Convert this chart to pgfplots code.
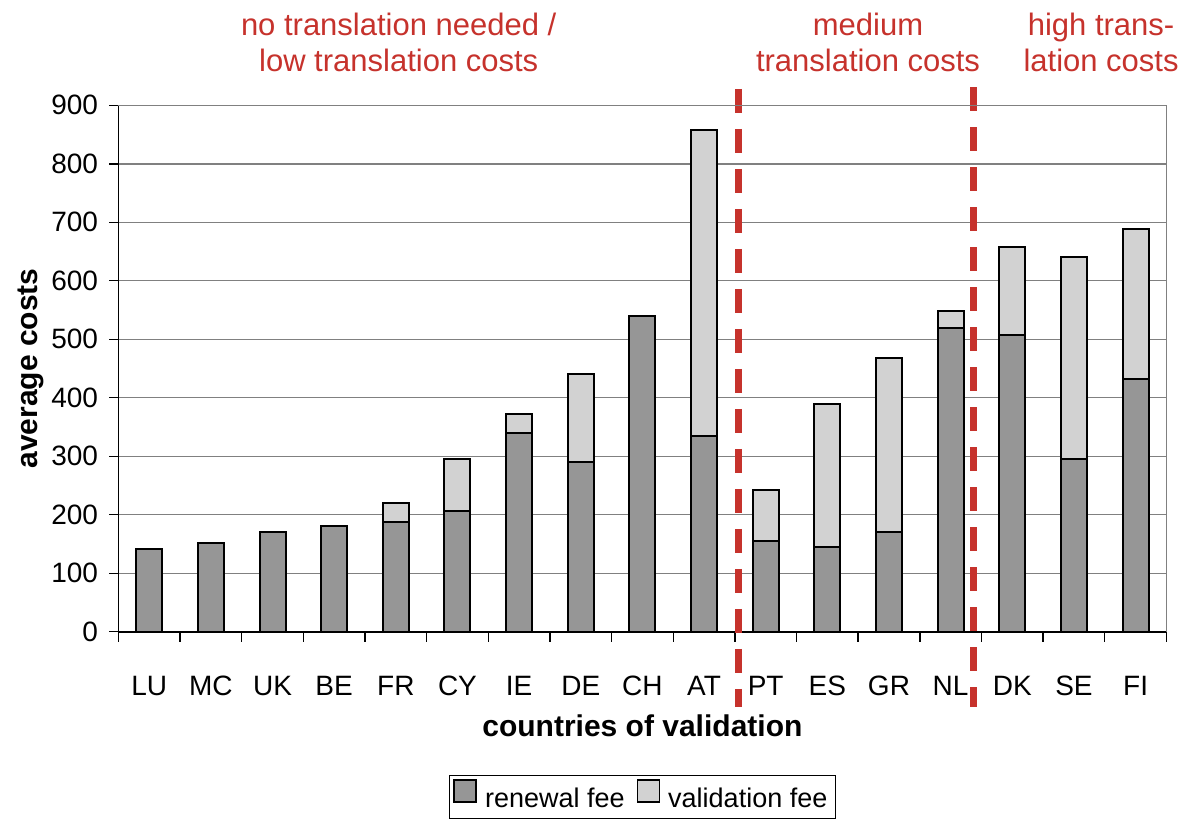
\documentclass[border=0pt]{standalone}
\usepackage{fontspec}
\setmainfont{Liberation Sans}
\usepackage{pgfplots}
\pgfplotsset{compat=1.18}
\definecolor{darkbar}{RGB}{150,150,150}
\definecolor{lightbar}{RGB}{210,210,210}
\definecolor{annred}{RGB}{198,50,44}
\definecolor{gridgray}{RGB}{128,128,128}
\pgfplotstableread{
x renewal validation
0 142 0
1 152 0
2 171 0
3 181 0
4 187 33
5 207 88
6 340 33
7 291 150
8 539 0
9 334 524
10 155 88
11 145 245
12 171 297
13 519 30
14 507 150
15 295 346
16 432 257
}\datatable
\begin{document}
\begin{tikzpicture}
\begin{axis}[
  name=ax,
  scale only axis, width=524pt, height=263.2pt,
  ybar stacked, bar width=13pt,
  xmin=-0.5, xmax=16.5, ymin=0, ymax=900,
  clip=false,
  axis x line*=bottom, axis y line*=left,
  axis line style={black, line width=0.8pt},
  ytick={0,100,...,900},
  xtick={0,...,16},
  xticklabels={LU,MC,UK,BE,FR,CY,IE,DE,CH,AT,PT,ES,GR,NL,DK,SE,FI},
  minor xtick={-0.5,0.5,...,16.5},
  major x tick style={draw=none},
  minor x tick style={black, line width=0.7pt},
  major y tick style={black, line width=0.7pt},
  tick align=outside,
  major tick length=4.5pt, minor tick length=5pt,
  ymajorgrids, grid style={gridgray, line width=0.7pt},
  /pgf/number format/assume math mode=true,
  ticklabel style={font=\fontsize{14}{16}\selectfont},
  xticklabel style={anchor=base, yshift=-27.2pt},
  yticklabel style={anchor=east, inner sep=0pt, xshift=-5.5pt},
  xlabel={countries of validation},
  xlabel style={font=\bfseries\fontsize{15}{18}\selectfont, at={(axis description cs:0.5,-0.2)}, anchor=base},
  ylabel={average costs},
  ylabel style={font=\bfseries\fontsize{15}{18}\selectfont, at={(axis description cs:-0.0834,0.5)}, anchor=center},
  legend style={at={(axis description cs:0.5,-0.272)}, anchor=north, legend columns=2, draw=black, line width=0.6pt,
    font=\fontsize{13.5}{16}\selectfont, inner sep=2pt,
    /tikz/every even column/.append style={column sep=4pt}},
  legend image code/.code={\draw[#1, line width=0.6pt] (0pt,-1.5pt) rectangle (11pt,9.5pt); \path (13pt,0pt);},
]
\addplot[fill=darkbar, draw=black, line width=1pt] table[x=x, y=renewal] {\datatable};
\addplot[fill=lightbar, draw=black, line width=1pt] table[x=x, y=validation] {\datatable};
\legend{renewal fee, validation fee}
\draw[gridgray, line width=0.7pt] (axis cs:-0.5,900) -- (axis cs:16.5,900) -- (axis cs:16.5,0);
\draw[annred, line width=3.5pt, dash pattern=on 11.8pt off 8.2pt] (axis cs:9.56,928) -- (axis cs:9.56,-129);
\draw[annred, line width=3.5pt, dash pattern=on 11.8pt off 8.2pt] (axis cs:13.37,931) -- (axis cs:13.37,-129);
\node[annred, anchor=base, font=\fontsize{15.5}{18}\selectfont, inner sep=0pt] at (axis cs:4.047,1019) {no translation needed /};
\node[annred, anchor=base, font=\fontsize{15.5}{18}\selectfont, inner sep=0pt] at (axis cs:4.047,957) {low translation costs};
\node[annred, anchor=base, font=\fontsize{15.5}{18}\selectfont, inner sep=0pt] at (axis cs:11.66,1019) {medium};
\node[annred, anchor=base, font=\fontsize{15.5}{18}\selectfont, inner sep=0pt] at (axis cs:11.66,957) {translation costs};
\node[annred, anchor=base, font=\fontsize{15.5}{18}\selectfont, inner sep=0pt] at (axis cs:15.44,1019) {high trans-};
\node[annred, anchor=base, font=\fontsize{15.5}{18}\selectfont, inner sep=0pt] at (axis cs:15.44,957) {lation costs};
\end{axis}
\path[use as bounding box] (ax.south west) ++(-59.2pt,-94.15pt) rectangle ++(592pt,410pt);
\end{tikzpicture}
\end{document}
